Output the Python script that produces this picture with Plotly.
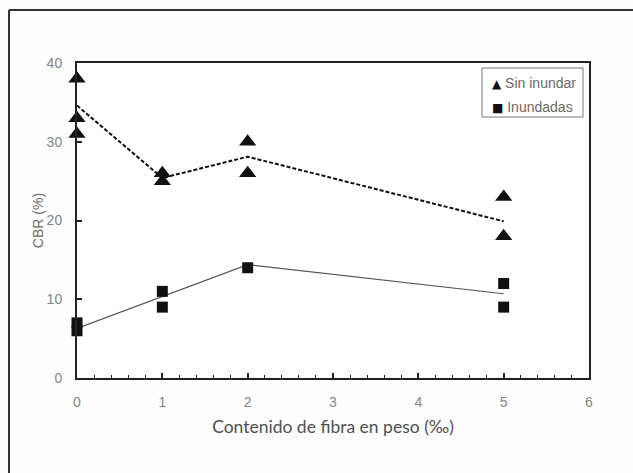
import plotly.graph_objects as go

# Data
fibra_sin = [0, 0, 0, 1, 1, 2, 2, 5, 5]
cbr_sin = [38, 33, 31, 26, 25, 30, 26, 23, 18]
fibra_inu = [0, 0, 1, 1, 2, 5, 5]
cbr_inu = [7, 6, 11, 9, 14, 12, 9]
fibra_lin = [0, 1, 2, 5]
linea_sin = [34.6, 25.4, 28.1, 19.9]
linea_inu = [6.3, 10.4, 14.4, 10.7]
xticks = [0, 1, 2, 3, 4, 5, 6]
yticks = [0, 10, 20, 30, 40]
series_names = ["Sin inundar", "Inundadas"]
legend_symbols = ["▲", "■"]

fig = go.Figure()
fig.add_trace(go.Scatter(x=fibra_lin, y=linea_sin, mode="lines",
                         line=dict(color="#111", width=2, dash="4px,2px"), showlegend=False))
fig.add_trace(go.Scatter(x=fibra_lin, y=linea_inu, mode="lines",
                         line=dict(color="#555", width=1.2), showlegend=False))
fig.add_trace(go.Scatter(x=fibra_sin, y=cbr_sin, mode="markers", name=series_names[0],
                         marker=dict(symbol="triangle-up", size=15, color="#111"),
                         showlegend=False, cliponaxis=False))
fig.add_trace(go.Scatter(x=fibra_inu, y=cbr_inu, mode="markers", name=series_names[1],
                         marker=dict(symbol="square", size=11, color="#111"),
                         showlegend=False, cliponaxis=False))

W, H = 633, 473
L, R, T, B = 77, 589, 63, 378
pw, ph = R - L, B - T

def px(xp):
    return (xp - L) / pw

def py(yp):
    return (B - yp) / ph

annotations = []
for i, (sym, name) in enumerate(zip(legend_symbols, series_names)):
    annotations.append(dict(
        xref="paper", yref="paper", x=px(490), y=py(83 + 24 * i),
        xanchor="left", yanchor="middle", showarrow=False,
        text=f"<span style='color:#111;font-family:DejaVu Sans;font-size:12px'>{sym}</span> {name}",
        font=dict(family="Liberation Sans, Arial", size=14, color="#6a6a6a"),
    ))

fig.update_layout(
    width=W, height=H, autosize=False,
    margin=dict(l=L, r=W - R, t=T, b=H - B, pad=0),
    paper_bgcolor="#fdfdfd", plot_bgcolor="#ffffff",
    font=dict(family="Liberation Sans, Arial", size=14, color="#858585"),
    showlegend=False,
    xaxis=dict(range=[0, 6], tickvals=xticks, ticks="inside", ticklen=5,
               tickwidth=1.5, tickcolor="#222",
               minor=dict(dtick=0.2, ticks="inside", ticklen=3, tickcolor="#222", tickwidth=1),
               showline=True, linecolor="#222", linewidth=2, mirror=True,
               showgrid=False, zeroline=False, ticklabelstandoff=10,
               title=dict(text="Contenido de fibra en peso (‰)",
                          font=dict(family="Lato, Open Sans", size=17.5, color="#505050"),
                          standoff=12)),
    yaxis=dict(range=[0, 40], tickvals=yticks, ticks="inside", ticklen=5,
               tickwidth=1.5, tickcolor="#222",
               showline=True, linecolor="#222", linewidth=2, mirror=True,
               showgrid=False, zeroline=False, ticklabelstandoff=10,
               title=dict(text="CBR (%)", font=dict(size=14, color="#707070"),
                          standoff=0)),
    annotations=annotations,
    shapes=[
        dict(type="rect", xref="paper", yref="paper", x0=px(482), x1=px(583),
             y0=py(68), y1=py(117), line=dict(color="#777", width=1), fillcolor="#ffffff"),
        dict(type="line", xref="paper", yref="paper", x0=px(9), x1=px(640),
             y0=py(10), y1=py(10), line=dict(color="#333", width=2)),
        dict(type="line", xref="paper", yref="paper", x0=px(9), x1=px(9),
             y0=py(10), y1=py(480), line=dict(color="#333", width=2)),
    ],
)

fig.write_html("out.html", config={"displayModeBar": False},
               post_script="document.body.style.margin='0';document.body.style.overflow='hidden';")
